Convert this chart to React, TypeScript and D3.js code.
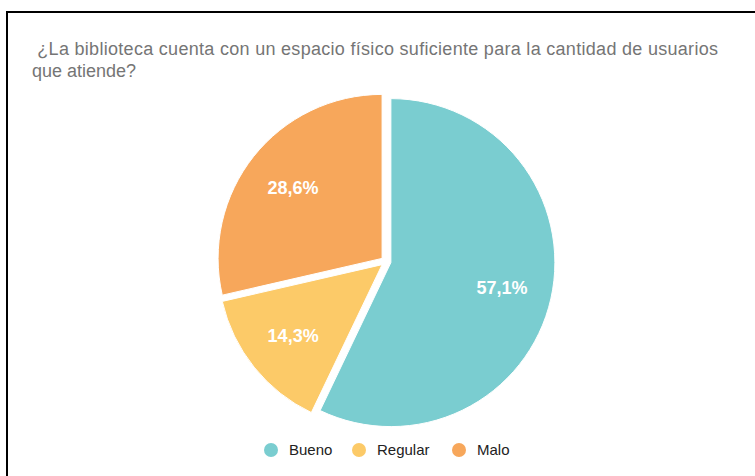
import { useRef, useEffect } from "react";
import * as d3 from "d3";

const categories = ["Bueno", "Regular", "Malo"];
const values = [57.1, 14.3, 28.6];
const labels = ["57,1%", "14,3%", "28,6%"];
const colours = ["#7acdd0", "#fcca68", "#f7a75b"];
const titleLines = [" ¿La biblioteca cuenta con un espacio físico suficiente para la cantidad de usuarios", "que atiende?"];

const width = 755;
const height = 476;

function PieChart() {
    const svgRef = useRef<SVGSVGElement>(null);

    useEffect(() => {
        const svg = d3.select(svgRef.current);

        // frame
        svg.append("rect")
            .attr("x", 7)
            .attr("y", 12)
            .attr("width", width + 10)
            .attr("height", height + 10)
            .attr("fill", "#fff")
            .attr("stroke", "#000")
            .attr("stroke-width", 2);

        // title
        const title = svg.append("g")
            .attr("font-family", "Liberation Sans, Arial, sans-serif")
            .attr("font-size", 18)
            .attr("fill", "#757575");
        title.selectAll("text")
            .data(titleLines)
            .join("text")
            .attr("x", 32)
            .attr("y", (_, i) => 55 + i * 21.5)
            .style("white-space", "pre")
            .attr("textLength", (_, i) => i === 0 ? 686 : null)
            .attr("lengthAdjust", "spacing")
            .text(d => d);

        const cx = 386, cy = 261.5, r = 164, explode = 5;
        const pie = d3.pie<number>().sort(null).value(d => d);
        const arc = d3.arc<d3.PieArcDatum<number>>().innerRadius(0).outerRadius(r);
        const arcs = pie(values);

        const g = svg.append("g").attr("transform", `translate(${cx},${cy})`);

        const slice = g.selectAll("g.slice")
            .data(arcs)
            .join("g")
            .attr("transform", d => {
                const a = (d.startAngle + d.endAngle) / 2;
                return `translate(${Math.sin(a) * explode},${-Math.cos(a) * explode})`;
            });

        slice.append("path")
            .attr("d", arc)
            .attr("fill", (_, i) => colours[i])
            .attr("stroke", "#fff")
            .attr("stroke-width", 1);

        slice.append("text")
            .attr("x", d => Math.sin((d.startAngle + d.endAngle) / 2) * 114)
            .attr("y", d => -Math.cos((d.startAngle + d.endAngle) / 2) * 114)
            .attr("dy", "0.35em")
            .attr("text-anchor", "middle")
            .attr("font-family", "Liberation Sans, Arial, sans-serif")
            .attr("font-size", 18)
            .attr("font-weight", "bold")
            .attr("fill", "#fff")
            .text((_, i) => labels[i]);

        // legend
        const legendX = [271, 359, 459];
        const legend = svg.append("g")
            .selectAll("g")
            .data(categories)
            .join("g")
            .attr("transform", (_, i) => `translate(${legendX[i]},450)`);
        legend.append("circle")
            .attr("r", 7)
            .attr("fill", (_, i) => colours[i]);
        legend.append("text")
            .attr("x", 18)
            .attr("dy", "0.35em")
            .attr("font-family", "Liberation Sans, Arial, sans-serif")
            .attr("font-size", 15)
            .attr("fill", "#222")
            .text(d => d);

        return () => {
            svg.selectAll("*").remove();
        };
    }, []);

    return (
        <svg ref={svgRef} width={width} height={height} style={{ position: "absolute", left: 0, top: 0 }}>
        </svg>
    );
}

export default function App() {
    return <PieChart />;
}
